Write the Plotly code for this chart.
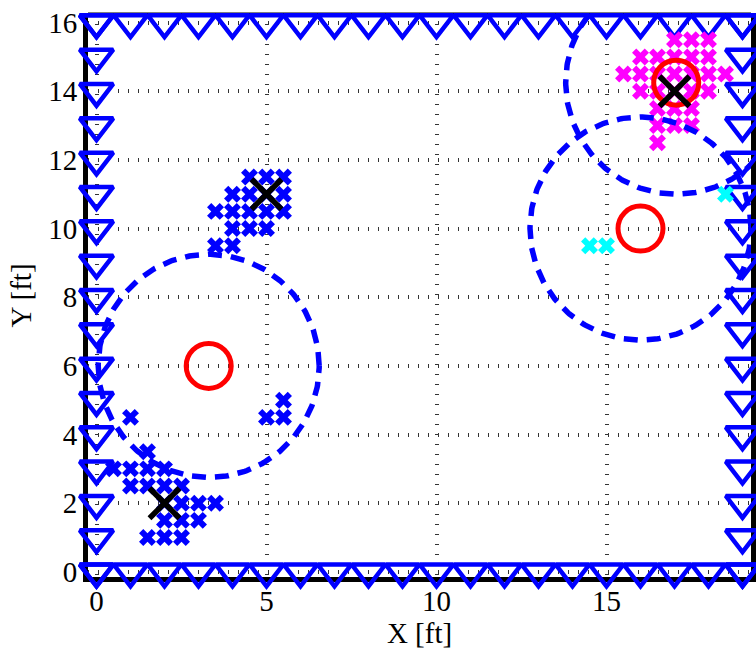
import numpy as np
import plotly.graph_objects as go

# ---- data ----
# boundary sensor positions (triangles)
edge_x_vals = [0, 1, 2, 3, 4, 5, 6, 7, 8, 9, 10, 11, 12, 13, 14, 15, 16, 17, 18, 19]
edge_y_vals = [0, 1, 2, 3, 4, 5, 6, 7, 8, 9, 10, 11, 12, 13, 14, 15, 16]
edge_x_min, edge_x_max = 0, 19
edge_y_min, edge_y_max = 0, 16

# cluster 1 (blue)
blue_x = [1, 1.5, 0.5, 1, 1.5, 2, 1, 1.5, 2, 2.5, 2, 2.5, 3, 3.5, 2, 2.5, 3, 1.5, 2, 2.5,
          4.5, 5, 5.5, 4, 4.5, 5, 5.5, 3.5, 4, 4.5, 5, 5.5, 4, 4.5, 5, 3.5, 4,
          5.5, 5, 5.5]
blue_y = [4.5, 3.5, 3, 3, 3, 3, 2.5, 2.5, 2.5, 2.5, 2, 2, 2, 2, 1.5, 1.5, 1.5, 1, 1, 1,
          11.5, 11.5, 11.5, 11, 11, 11, 11, 10.5, 10.5, 10.5, 10.5, 10.5, 10, 10, 10, 9.5, 9.5,
          5, 4.5, 4.5]

# cluster 2 (magenta)
magenta_x = [17, 17.5, 18,
             16, 16.5, 17, 17.5, 18,
             15.5, 16, 16.5, 17, 17.5, 18, 18.5,
             16, 16.5, 17, 17.5, 18,
             16.5, 17, 17.5,
             16.5, 17, 17.5,
             16.5]
magenta_y = [15.5, 15.5, 15.5,
             15, 15, 15, 15, 15,
             14.5, 14.5, 14.5, 14.5, 14.5, 14.5, 14.5,
             14, 14, 14, 14, 14,
             13.5, 13.5, 13.5,
             13, 13, 13,
             12.5]

# cluster 3 (cyan)
cyan_x = [14.5, 15, 18.5]
cyan_y = [9.5, 9.5, 11]

# estimated centres (red circles) and their range circles
centre_x = [3.3, 16, 17.05]
centre_y = [6.0, 10, 14.25]
range_radius = [3.25, 3.25, 3.25]

# true source positions (black crosses)
true_x = [2, 5, 17]
true_y = [2, 11, 14]

x_ticks = [0, 5, 10, 15]
y_ticks = [0, 2, 4, 6, 8, 10, 12, 14, 16]

# ---- build figure ----
BLUE = "#0000FF"
FONT = "Liberation Serif"

tri_x = edge_x_vals + edge_x_vals + [edge_x_min] * len(edge_y_vals) + [edge_x_max] * len(edge_y_vals)
tri_y = [edge_y_min] * len(edge_x_vals) + [edge_y_max] * len(edge_x_vals) + edge_y_vals + edge_y_vals

fig = go.Figure()

fig.add_trace(go.Scatter(
    x=tri_x, y=tri_y, mode="markers", cliponaxis=False, showlegend=False,
    marker=dict(symbol="triangle-down-open", size=29, color=BLUE,
                line=dict(color=BLUE, width=4.5))))

for xs, ys, col in [(blue_x, blue_y, BLUE), (magenta_x, magenta_y, "#FF00FF"),
                    (cyan_x, cyan_y, "#00FFFF")]:
    fig.add_trace(go.Scatter(
        x=xs, y=ys, mode="markers", showlegend=False,
        marker=dict(symbol="x", size=15, color=col, line=dict(width=0))))

theta = np.linspace(0, 2 * np.pi, 361)
for cx, cy, r in zip(centre_x, centre_y, range_radius):
    fig.add_trace(go.Scatter(
        x=cx + r * np.cos(theta), y=cy + r * np.sin(theta), mode="lines",
        showlegend=False, line=dict(color=BLUE, width=5.5, dash="14px,9px")))

fig.add_trace(go.Scatter(
    x=centre_x, y=centre_y, mode="markers", showlegend=False,
    marker=dict(symbol="circle-open", size=45, color="#FF0000",
                line=dict(color="#FF0000", width=5))))

fig.add_trace(go.Scatter(
    x=true_x, y=true_y, mode="markers", showlegend=False,
    marker=dict(symbol="x-thin-open", size=30, color="#000000",
                line=dict(color="#000000", width=5.5))))

axis_common = dict(
    showgrid=True, gridcolor="#333333", gridwidth=4, griddash="1px,9px",
    zeroline=False, showline=True, linecolor="black", linewidth=5,
    ticks="", layer="below traces",
    tickfont=dict(family=FONT, size=29, color="black"),
    title_font=dict(family=FONT, size=29, color="black"),
)

fig.update_xaxes(range=[-0.25, 19.25], tickvals=x_ticks, title_text="X [ft]",
                 mirror=False, title_standoff=0, ticklabelstandoff=-6, **axis_common)
fig.update_yaxes(range=[-0.15, 16.25], tickvals=y_ticks, title_text="Y [ft]",
                 mirror=True, title_standoff=10, ticklabelstandoff=0, **axis_common)

fig.add_shape(type="line", xref="paper", yref="paper", x0=0, x1=1, y0=1, y1=1,
              line=dict(color="black", width=3), layer="below")

fig.update_layout(
    width=756, height=649,
    margin=dict(l=88, r=5, t=14, b=72, autoexpand=False),
    plot_bgcolor="white", paper_bgcolor="white",
    showlegend=False,
)

fig.write_html("out.html",
               config={"displayModeBar": False},
               post_script="document.body.style.margin='0';document.body.style.overflow='hidden';")
